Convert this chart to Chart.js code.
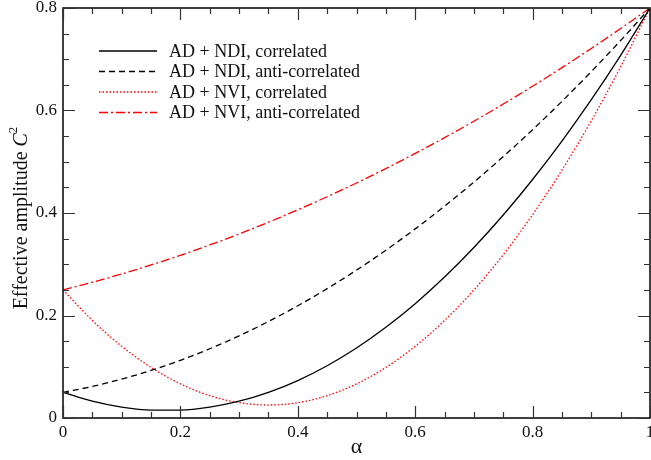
<!DOCTYPE html>
<html lang="en">
<head>
  <meta charset="UTF-8">
  <title>Effective amplitude</title>
  <script src="https://cdn.jsdelivr.net/npm/chart.js"></script>
  <style>
    html, body { margin: 0; padding: 0; background: #fff; }
  </style>
</head>
<body>
  <canvas id="chart" width="651" height="460"></canvas>
  <script>
    // values
    const alpha = [0, 0.05, 0.1, 0.15, 0.2, 0.25, 0.3, 0.35, 0.4, 0.45, 0.5,
      0.55, 0.6, 0.65, 0.7, 0.75, 0.8, 0.85, 0.9, 0.95, 1]
    const ndiCorrelated = [0.050, 0.0327, 0.0211, 0.0154, 0.0154, 0.0211, 0.0327, 0.0500, 0.0730, 0.1019, 0.1365,
      0.1769, 0.2230, 0.2750, 0.3327, 0.3961, 0.4654, 0.5404, 0.6211, 0.7077, 0.8]
    const ndiAnti = [0.050, 0.0616, 0.0759, 0.0929, 0.1126, 0.1351, 0.1603, 0.1883, 0.2190, 0.2524, 0.2885,
      0.3274, 0.3690, 0.4133, 0.4603, 0.5101, 0.5626, 0.6179, 0.6759, 0.7366, 0.8]
    const nviCorrelated = [0.25, 0.1904, 0.1399, 0.0987, 0.0666, 0.0436, 0.0299, 0.0253, 0.0298, 0.0436, 0.0665,
      0.0986, 0.1398, 0.1903, 0.2499, 0.3186, 0.3966, 0.4837, 0.5799, 0.6854, 0.8]
    const nviAnti = [0.25, 0.2649, 0.2811, 0.2986, 0.3174, 0.3376, 0.3591, 0.3820, 0.4062, 0.4317, 0.4585,
      0.4867, 0.5162, 0.5470, 0.5791, 0.6126, 0.6474, 0.6836, 0.7211, 0.7599, 0.8]
    const seriesLabels = ['AD + NDI, correlated', 'AD + NDI, anti-correlated',
      'AD + NVI, correlated', 'AD + NVI, anti-correlated']
    const xTicks = [0, 0.2, 0.4, 0.6, 0.8, 1]
    const xTickLabels = ['0', '0.2', '0.4', '0.6', '0.8', '1']
    const yTicks = [0, 0.2, 0.4, 0.6, 0.8]
    const yTickLabels = ['0', '0.2', '0.4', '0.6', '0.8']

    const serif = "'Liberation Serif', 'Times New Roman', serif"
    const textColor = '#111'

    const toPoints = ys => alpha.map((a, i) => ({ x: a, y: ys[i] }))

    const styles = [
      { color: '#000', dash: [] },
      { color: '#000', dash: [6, 4] },
      { color: '#ff0000', dash: [1.5, 2] },
      { color: '#ff0000', dash: [9, 3, 2, 3] }
    ]

    const datasets = [ndiCorrelated, ndiAnti, nviCorrelated, nviAnti].map((ys, i) => ({
      label: seriesLabels[i],
      data: toPoints(ys),
      borderColor: styles[i].color,
      borderDash: styles[i].dash,
      borderWidth: 1.3,
      pointRadius: 0,
      fill: false,
      cubicInterpolationMode: 'monotone'
    }))

    // frame, inward ticks, tick labels, legend and axis titles
    const decor = {
      id: 'decor',
      afterDraw(chart) {
        const ctx = chart.ctx
        const { left, right, top, bottom } = chart.chartArea
        const xs = chart.scales.x
        const ys = chart.scales.y
        ctx.save()
        ctx.strokeStyle = '#000'
        ctx.lineWidth = 1.5
        ctx.strokeRect(left, top, right - left, bottom - top)

        ctx.lineWidth = 1.2
        ctx.strokeStyle = '#333'
        for (let i = 0; i <= 20; i++) {
          const px = Math.round(xs.getPixelForValue(i * 0.05)) + 0.5
          const len = i % 4 === 0 ? 12 : 6
          ctx.beginPath()
          ctx.moveTo(px, bottom); ctx.lineTo(px, bottom - len)
          ctx.moveTo(px, top); ctx.lineTo(px, top + len)
          ctx.stroke()
        }
        for (let i = 0; i <= 16; i++) {
          const py = Math.round(ys.getPixelForValue(i * 0.05)) + 0.5
          const len = i % 4 === 0 ? 12 : 6
          ctx.beginPath()
          ctx.moveTo(left, py); ctx.lineTo(left + len, py)
          ctx.moveTo(right, py); ctx.lineTo(right - len, py)
          ctx.stroke()
        }

        // tick labels
        ctx.fillStyle = textColor
        ctx.font = '17px ' + serif
        ctx.textAlign = 'center'
        ctx.textBaseline = 'top'
        xTicks.forEach((v, i) => ctx.fillText(xTickLabels[i], xs.getPixelForValue(v), bottom + 6))
        ctx.textAlign = 'right'
        ctx.textBaseline = 'middle'
        yTicks.forEach((v, i) => ctx.fillText(yTickLabels[i], left - 6, ys.getPixelForValue(v)))

        // x title
        ctx.font = '22px ' + serif
        ctx.textAlign = 'center'
        ctx.fillText('α', (left + right) / 2, 447)

        // legend
        ctx.font = '18px ' + serif
        ctx.textBaseline = 'middle'
        ctx.textAlign = 'left'
        chart.data.datasets.forEach((ds, i) => {
          const y = 51 + i * 20.5
          ctx.strokeStyle = ds.borderColor
          ctx.setLineDash(ds.borderDash)
          ctx.lineWidth = 1.3
          ctx.beginPath()
          ctx.moveTo(99, y); ctx.lineTo(157, y)
          ctx.stroke()
          ctx.setLineDash([])
          ctx.fillStyle = textColor
          ctx.fillText(ds.label, 169, y + 1)
        })

        // y axis title with italic C and superscript 2
        ctx.translate(22, 218)
        ctx.rotate(-Math.PI / 2)
        const parts = [
          { t: 'Effective amplitude ', f: '20px ' + serif, dy: 0 },
          { t: 'C', f: 'italic 20px ' + serif, dy: 0 },
          { t: '2', f: '13px ' + serif, dy: -8 }
        ]
        let total = 0
        parts.forEach(p => { ctx.font = p.f; p.w = ctx.measureText(p.t).width; total += p.w })
        let x = -total / 2
        ctx.fillStyle = textColor
        ctx.textBaseline = 'middle'
        parts.forEach(p => {
          ctx.font = p.f
          ctx.fillText(p.t, x, p.dy)
          x += p.w
        })
        ctx.restore()
      }
    }

    new Chart(document.getElementById('chart').getContext('2d'), {
      type: 'line',
      data: { datasets },
      options: {
        responsive: false,
        animation: false,
        devicePixelRatio: 1,
        layout: { padding: { top: 8, right: 1, left: 0, bottom: 0 } },
        plugins: { legend: { display: false }, tooltip: { enabled: false } },
        scales: {
          x: {
            type: 'linear',
            min: 0,
            max: 1,
            grid: { display: false, drawTicks: false },
            border: { display: false },
            ticks: { display: false },
            afterFit: s => { s.height = 42 }
          },
          y: {
            min: 0,
            max: 0.8,
            grid: { display: false, drawTicks: false },
            border: { display: false },
            ticks: { display: false },
            afterFit: s => { s.width = 63 }
          }
        }
      },
      plugins: [decor]
    })
  </script>
</body>
</html>
